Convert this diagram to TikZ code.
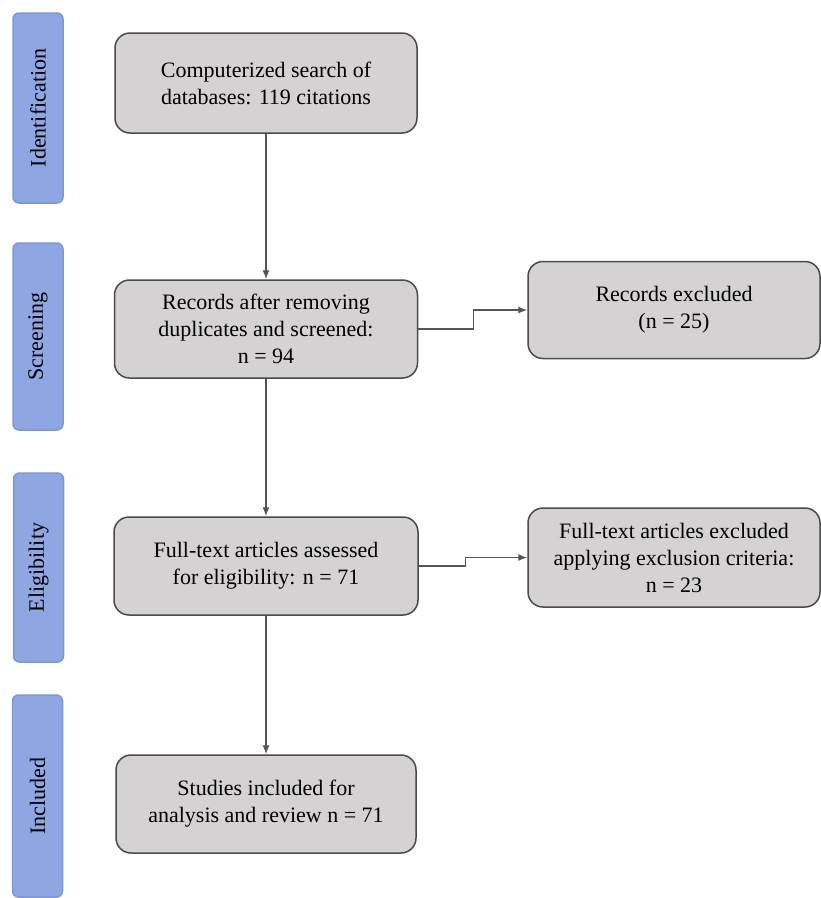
\documentclass[tikz,border=0pt]{standalone}
\usepackage{fontspec}
\setmainfont{Liberation Serif}
\usepackage{xcolor}
\usetikzlibrary{shapes,arrows,positioning,calc,arrows.meta}

\definecolor{stagefill}{HTML}{8EA7E2}
\definecolor{stageline}{HTML}{7E96D2}
\definecolor{boxfill}{HTML}{D4D2D3}
\definecolor{boxline}{HTML}{4A4A4A}
\definecolor{arrline}{HTML}{555555}

\tikzset{
    stage/.style={draw=stageline, fill=stagefill, line width=1.5pt, rounded corners=6pt,
        rotate=90, minimum height=50pt, inner sep=0pt, font=\fontsize{22}{26}\selectfont},
    flowbox/.style={draw=boxline, fill=boxfill, line width=1.5pt, rounded corners=15pt,
        align=center, inner sep=0pt, font=\fontsize{22}{27}\selectfont},
    arr/.style={draw=arrline, line width=1.3pt, -{Latex[length=9pt,width=7pt]}}
}

\begin{document}
\begin{tikzpicture}[x=1pt, y=-1pt, node distance=240pt]
    \useasboundingbox (0,0) rectangle (821,898);

    % phase bars
    \node (ident) [stage, minimum width=190pt] at (38,108) {Identification};
    \node (screening) [stage, minimum width=187pt] at (38,336.5) {Screening};
    \node (eligibility) [stage, minimum width=189pt] at (38.5,567.5) {Eligibility};
    \node (included) [stage, minimum width=202pt] at (37.5,796) {Included};

    % main column
    \node (search) [flowbox, minimum width=302pt, minimum height=100pt] at (266,83)
        {Computerized search of\\databases: 119 citations};
    \node (records) [flowbox, minimum width=303pt, minimum height=98pt, below of=search, yshift=-6pt]
        {Records after removing\\duplicates and screened:\\n = 94};
    \node (fulltext) [flowbox, minimum width=304pt, minimum height=98pt, below of=records, yshift=3pt]
        {Full-text articles assessed\\for eligibility: n = 71};
    \node (studies) [flowbox, minimum width=300pt, minimum height=98pt, below of=fulltext, yshift=2pt]
        {Studies included for\\analysis and review n = 71};

    % excluded column
    \node (recexcl) [flowbox, minimum width=292pt, minimum height=97pt] at (674,310)
        {Records excluded\\(n = 25)};
    \node (ftexcl) [flowbox, minimum width=292pt, minimum height=99pt] at (674,557.5)
        {Full-text articles excluded\\applying exclusion criteria:\\n = 23};

    \draw[arr] (search) -- (records);
    \draw[arr] (records) -- (fulltext);
    \draw[arr] (fulltext) -- (studies);
    \draw[arr] (records.east) -- ++(55,0) |- (recexcl.west);
    \draw[arr] (fulltext.east) -- ++(47,0) |- (ftexcl.west);

\end{tikzpicture}
\end{document}
